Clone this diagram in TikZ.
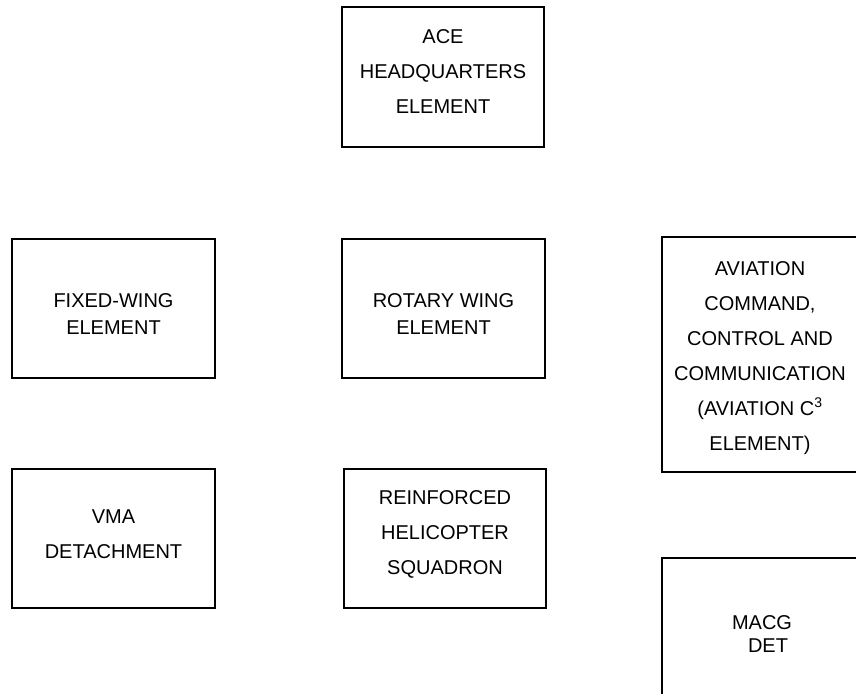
\documentclass[tikz,border=0pt]{standalone}
\usepackage{fontspec}
\setmainfont{Liberation Sans}
\usetikzlibrary{positioning}
\tikzset{
	unitbox/.style={draw, line width=2.2pt, inner sep=0pt},
	unittext/.style={align=center, inner sep=0pt, font=\fontsize{20}{35}\selectfont},
	tightlines/.style={font=\fontsize{20}{27}\selectfont}
}

\begin{document}
\begin{tikzpicture}[x=1pt, y=-1pt]
		\clip (0,0) rectangle (856,693);
		
		\node[unitbox, minimum width=202, minimum height=140] (ace) at (443, 77) {};
		\node[unittext] (ace text) at ([yshift=5pt]ace.center) {ACE\\HEADQUARTERS\\ELEMENT};
		
		\node[unitbox, minimum width=203, minimum height=139] (fixed) at (113.5, 308.5) {};
		\node[unittext, tightlines] (fixed text) at ([yshift=-5.5pt]fixed.center) {FIXED-WING\\ELEMENT};
		\node[unitbox, minimum width=203, minimum height=139] (rotary) at (443.5, 308.5) {};
		\node[unittext, tightlines] (rotary text) at ([yshift=-5.5pt]rotary.center) {ROTARY WING\\ELEMENT};
		
		\node[unitbox, minimum width=203, minimum height=139] (vma) at (113.5, 538.5) {};
		\node[unittext] (vma text) at ([yshift=4pt]vma.center) {VMA\\DETACHMENT};
		\node[unitbox, minimum width=202, minimum height=139] (hmh) at (445, 538.5) {};
		\node[unittext] (hmh text) at ([yshift=4pt]hmh.center) {REINFORCED\\HELICOPTER\\SQUADRON};
		
		\node[unitbox, minimum width=196, minimum height=235] (avcc) at (760, 354.5) {};
		\node[unittext] (avcc text) at ([yshift=-3.5pt]avcc.center) {AVIATION\\COMMAND,\\CONTROL AND\\COMMUNICATION\\(AVIATION C\textsuperscript{3}\\ELEMENT)};
		
		\node[unitbox, minimum width=196, minimum height=148] (macg) at (760, 632) {};
		\node[unittext, font=\fontsize{20}{23}\selectfont] (macg text) at ([xshift=2pt, yshift=-2pt]macg.center) {MACG\\\hspace*{12pt}DET};
	\end{tikzpicture}
\end{document}
